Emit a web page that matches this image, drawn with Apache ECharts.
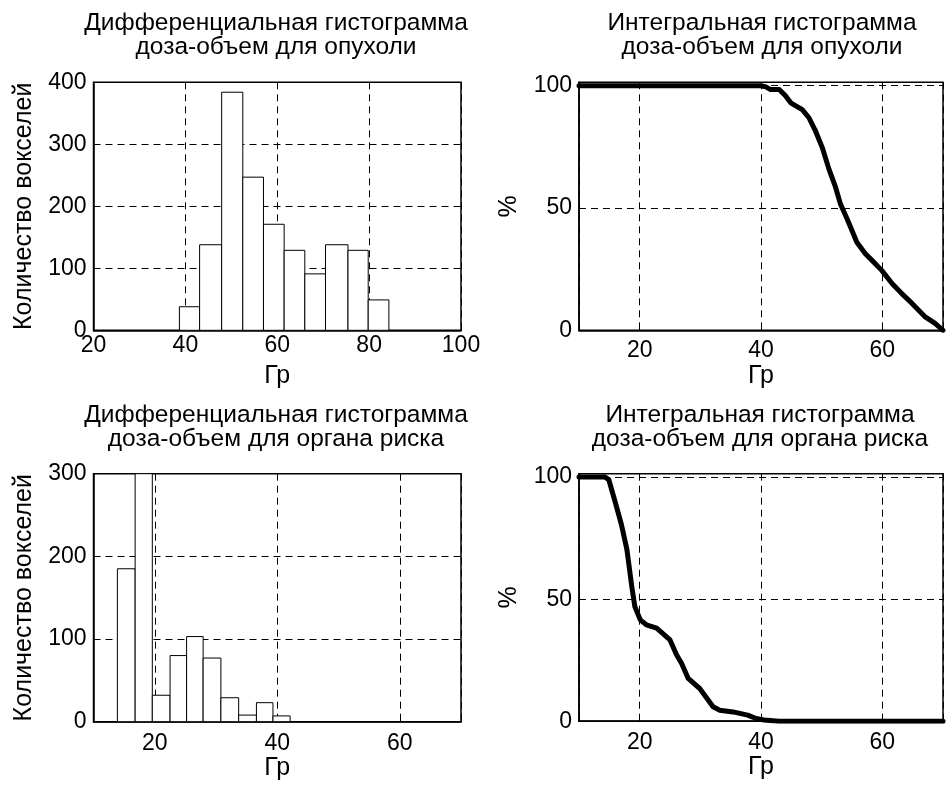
<!DOCTYPE html>
<html>
<head>
<meta charset="utf-8">
<script src="https://cdn.jsdelivr.net/npm/echarts@6/dist/echarts.min.js"></script>
<style>
  html, body { margin: 0; padding: 0; background: #fff; }
  #main { width: 946px; height: 785px; }
</style>
</head>
<body>
<div id="main"></div>
<script>
// --- данные ---
// опухоль: границы бинов (Гр) и число вокселей
const tumorEdges = [38.7, 43.1, 47.9, 52.5, 57.0, 61.5, 66.0, 70.5, 75.4, 79.8, 84.3];
const tumorCounts = [38, 138, 384, 247, 171, 129, 91, 138, 129, 49];
// орган риска
const organEdges = [13.9, 16.8, 19.6, 22.5, 25.2, 27.9, 30.8, 33.7, 36.6, 39.3, 42.1];
const organCounts = [185, 300, 32, 80, 103, 77, 29, 8, 23, 7];

// интегральные гистограммы: доза (Гр) и % объема
const tumorDose = [10, 20, 30, 40, 40.8, 41.5, 43.0, 44.0, 44.9, 46.8, 47.9, 49.0, 50.1, 51.2, 52.3, 53.1, 54.2, 55.8, 57.2, 58.3, 59.9, 61.6, 63.2, 64.9, 67.0, 68.7, 70.0];
const tumorPct = [100, 100, 100, 100, 99.5, 98.5, 98.5, 96, 93, 90.2, 86.9, 81.4, 74.7, 65.9, 58.4, 51.6, 45.5, 36, 31.3, 28.6, 24.5, 19.1, 15, 11, 5.6, 2.8, 0];
const organDose = [10, 14.3, 14.9, 16.0, 17.0, 17.9, 18.7, 19.2, 20.1, 21.1, 22.8, 25.0, 26.1, 26.9, 28.0, 29.9, 32.1, 33.2, 35.4, 37.8, 39.2, 40.5, 43, 70];
const organPct = [100, 100, 99, 89.5, 80.5, 70.3, 55.2, 47, 41.5, 39.5, 38.1, 33.3, 27.1, 23.7, 17.5, 13.4, 5.9, 4.5, 3.8, 2.5, 1.1, 0.5, 0, 0];

const titles = [
  'Дифференциальная гистограмма\nдоза-объем для опухоли',
  'Интегральная гистограмма\nдоза-объем для опухоли',
  'Дифференциальная гистограмма\nдоза-объем для органа риска',
  'Интегральная гистограмма\nдоза-объем для органа риска'
];

const FONT = "'Liberation Sans', Arial, sans-serif";
const myChart = echarts.init(document.getElementById('main'));

const grids = [
  { left: 93.5, top: 82.3, width: 367.5, height: 248 },
  { left: 579, top: 82.3, width: 366, height: 248 },
  { left: 93.5, top: 473.7, width: 367.5, height: 248 },
  { left: 579, top: 473.7, width: 366, height: 247.5 }
].map(g => Object.assign({ show: true, borderColor: '#000', borderWidth: 1.5, backgroundColor: '#fff' }, g));

const gridLine = { show: true, lineStyle: { color: '#000', width: 1, type: [7, 5] } };

function xAxis(i, min, max, opts) {
  return Object.assign({
    type: 'value', gridIndex: i, min: min, max: max,
    name: 'Гр', nameLocation: 'middle', nameGap: 33,
    nameTextStyle: { fontFamily: FONT, fontSize: 25, color: '#000' },
    axisLine: { show: true, onZero: false, lineStyle: { color: '#000', width: 1.5 } },
    axisTick: { show: true, inside: true, length: 5, lineStyle: { color: '#000' } },
    splitLine: gridLine
  }, opts);
}

function yAxis(i, max, interval, name) {
  return {
    type: 'value', gridIndex: i, min: 0, max: max, interval: interval,
    name: name, nameLocation: 'middle', nameGap: 57,
    nameTextStyle: { fontFamily: FONT, fontSize: 25, color: '#000' },
    axisLine: { show: true, lineStyle: { color: '#000', width: 1.5 } },
    axisTick: { show: true, inside: true, length: 5, lineStyle: { color: '#000' } },
    axisLabel: {
      fontFamily: FONT, fontSize: 23, color: '#000', margin: 7,
      formatter: v => (v % interval === 0 ? String(v) : '')
    },
    splitLine: gridLine
  };
}

// x-ось 10..70 с подписями только через 20 Гр
const every20 = v => (v % 20 === 0 ? String(v) : '');

function histData(edges, counts) {
  return counts.map((c, k) => [edges[k], edges[k + 1], c]);
}

function renderBin(params, api) {
  const p0 = api.coord([api.value(0), api.value(2)]);
  const p1 = api.coord([api.value(1), 0]);
  return {
    type: 'rect',
    shape: { x: p0[0], y: p0[1], width: p1[0] - p0[0], height: p1[1] - p0[1] },
    style: { fill: '#fff', stroke: '#000', lineWidth: 1 }
  };
}

function zip(a, b) { return a.map((v, k) => [v, b[k]]); }

const titleCenters = [[271, 6], [757, 6], [271, 398], [755, 398]];

const option = {
  backgroundColor: '#fff',
  animation: false,
  title: titles.map((t, i) => ({
    text: t, left: titleCenters[i][0], top: titleCenters[i][1], textAlign: 'center',
    textStyle: { fontFamily: FONT, fontSize: 24.5, fontWeight: 'normal', color: '#000', lineHeight: 24 }
  })),
  grid: grids,
  xAxis: [
    xAxis(0, 20, 100, { interval: 20, axisLabel: { fontFamily: FONT, fontSize: 23, color: '#000', margin: 4 } }),
    xAxis(1, 10, 70, { splitNumber: 3, axisLabel: { fontFamily: FONT, fontSize: 23, color: '#000', margin: 9, formatter: every20 } }),
    xAxis(2, 10, 70, { splitNumber: 3, axisLabel: { fontFamily: FONT, fontSize: 23, color: '#000', margin: 10, formatter: every20 } }),
    xAxis(3, 10, 70, { splitNumber: 3, axisLabel: { fontFamily: FONT, fontSize: 23, color: '#000', margin: 10, formatter: every20 } })
  ],
  yAxis: [
    yAxis(0, 400, 100, 'Количество вокселей'),
    yAxis(1, 101.4, 50, '%'),
    yAxis(2, 300, 100, 'Количество вокселей'),
    yAxis(3, 101.4, 50, '%')
  ],
  series: [
    {
      type: 'custom', xAxisIndex: 0, yAxisIndex: 0,
      renderItem: renderBin, encode: { x: [0, 1], y: 2 },
      data: histData(tumorEdges, tumorCounts)
    },
    {
      type: 'line', xAxisIndex: 1, yAxisIndex: 1, showSymbol: false, clip: true,
      lineStyle: { color: '#000', width: 5, join: 'round', cap: 'round' },
      data: zip(tumorDose, tumorPct)
    },
    {
      type: 'custom', xAxisIndex: 2, yAxisIndex: 2,
      renderItem: renderBin, encode: { x: [0, 1], y: 2 },
      data: histData(organEdges, organCounts)
    },
    {
      type: 'line', xAxisIndex: 3, yAxisIndex: 3, showSymbol: false, clip: true,
      lineStyle: { color: '#000', width: 5, join: 'round', cap: 'round' },
      data: zip(organDose, organPct)
    }
  ]
};

myChart.setOption(option);
window.addEventListener('resize', () => myChart.resize());
</script>
</body>
</html>
